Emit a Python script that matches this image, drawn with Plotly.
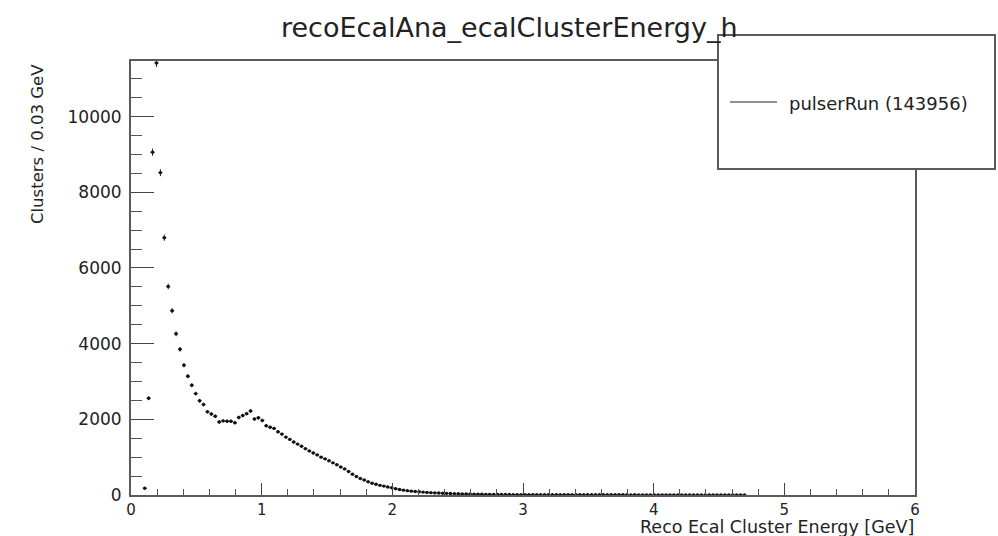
import numpy as np
import plotly.graph_objects as go

# Histogram definition: 200 bins of 0.03 GeV from 0 to 6 GeV
bin_width = 0.03
n_bins = 200
first_filled_bin = 3

# Cluster counts per bin, starting at bin index 3 (bins 0-2 are empty)
counts_filled = [
    177, 2556, 9060, 11420, 8520, 6800, 5510, 4870, 4260, 3850,
    3430, 3140, 2900, 2680, 2490, 2390, 2200, 2140, 2080, 1930,
    1960, 1950, 1950, 1910, 2050, 2100, 2150, 2220, 2010, 2040,
    1970, 1830, 1790, 1760, 1670, 1610, 1530, 1470, 1400, 1345,
    1290, 1225, 1165, 1110, 1060, 1000, 955, 905, 850, 800,
    740, 690, 620, 550, 490, 435, 395, 350, 310, 285,
    255, 235, 210, 190, 165, 145, 128, 115, 102, 92,
    84, 76, 68, 62, 56, 51, 47, 43, 40, 36,
    33, 30, 27, 25, 23, 21, 19, 17, 16, 15,
    14, 13, 12, 12, 11, 11, 10,
    10, 9, 10, 9, 9, 8, 9, 8, 8, 8, 7, 8, 7, 7, 7, 6, 7, 6, 6, 6,
    6, 5, 6, 5, 5, 5, 5, 4, 5, 4,
    4, 4, 4, 3, 4, 3, 3, 3, 3, 3, 2, 3, 2, 2, 2, 2, 2, 2, 1, 2,
    1, 1, 1, 1, 1, 1, 1,
]

title_text = "recoEcalAna_ecalClusterEnergy_h"
x_title = "Reco Ecal Cluster Energy [GeV]"
y_title = "Clusters / 0.03 GeV"
legend_label = "pulserRun (143956)"

x_range = [0, 6]
y_range = [0, 11470]

counts = np.zeros(n_bins)
counts[first_filled_bin:first_filled_bin + len(counts_filled)] = counts_filled
centers = (np.arange(n_bins) + 0.5) * bin_width
mask = counts > 0
xs = centers[mask]
ys = counts[mask]
errs = np.sqrt(ys)

FONT = "DejaVu Sans"
TXT = "#222222"
AX = "#5a5a5a"

fig = go.Figure()
fig.add_trace(go.Scatter(
    x=xs, y=ys, mode="markers",
    marker=dict(size=3.4, color="#111111"),
    error_x=dict(type="constant", value=bin_width / 2, width=0, thickness=1.2, color="#222222"),
    error_y=dict(type="data", array=errs, width=0, thickness=1, color="#222222"),
    showlegend=False,
))

# plot area in pixels
L, R, T, B = 131, 915, 61, 495
W, H = 998, 536


def px(xp):
    return (xp - L) / (R - L)


def py(yp):
    return (B - yp) / (B - T)


fig.update_layout(
    width=W, height=H,
    margin=dict(l=L, r=W - R, t=T, b=H - B, pad=0),
    paper_bgcolor="white", plot_bgcolor="white",
    font=dict(family=FONT, color=TXT),
    showlegend=False,
)

fig.update_xaxes(
    range=x_range, dtick=1, tick0=0,
    showgrid=False, zeroline=False,
    showline=True, mirror=True, linecolor=AX, linewidth=2,
    ticks="inside", ticklen=12, tickwidth=1, tickcolor="#444444",
    minor=dict(ticks="inside", ticklen=6, dtick=0.2, tickcolor="#555555", tickwidth=1, showgrid=False),
    tickfont=dict(size=15, family=FONT, color=TXT),
    ticklabelstandoff=0,
)
fig.update_yaxes(
    range=y_range, dtick=2000, tick0=0, tickformat="d",
    showgrid=False, zeroline=False,
    showline=True, mirror=True, linecolor=AX, linewidth=2,
    ticks="inside", ticklen=23, tickwidth=1, tickcolor="#444444",
    minor=dict(ticks="inside", ticklen=11, dtick=500, tickcolor="#555555", tickwidth=1, showgrid=False),
    tickfont=dict(size=17, family=FONT, color=TXT),
    ticklabelstandoff=4,
)

annotations = [
    dict(text=title_text, x=px(509), y=py(27), xref="paper", yref="paper",
         xanchor="center", yanchor="middle", showarrow=False,
         font=dict(size=27, family=FONT, color=TXT)),
    dict(text=x_title, x=1.0, y=py(526.5), xref="paper", yref="paper",
         xanchor="right", yanchor="middle", showarrow=False, borderpad=0,
         font=dict(size=17.5, family=FONT, color=TXT)),
    dict(text=y_title, x=px(37), y=py(62), xref="paper", yref="paper",
         xanchor="center", yanchor="top", textangle=-90, showarrow=False,
         font=dict(size=16.5, family=FONT, color=TXT)),
    dict(text=legend_label, x=px(787), y=py(103), xref="paper", yref="paper",
         xanchor="left", yanchor="middle", showarrow=False,
         font=dict(size=18, family=FONT, color=TXT)),
]

shapes = [
    # legend box
    dict(type="rect", xref="paper", yref="paper",
         x0=px(718), x1=px(995), y0=py(169), y1=py(35),
         fillcolor="white", line=dict(color=AX, width=2), layer="above"),
    # legend line sample
    dict(type="line", xref="paper", yref="paper",
         x0=px(730), x1=px(777), y0=py(102), y1=py(102),
         line=dict(color="#222222", width=1), layer="above"),
]

fig.update_layout(annotations=annotations, shapes=shapes)

fig.write_html("out.html")
